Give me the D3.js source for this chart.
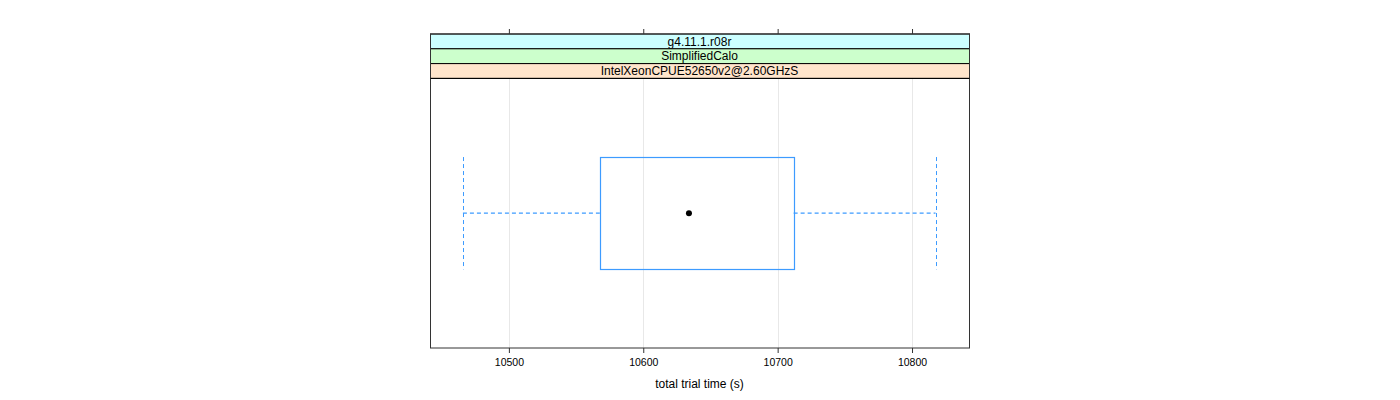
<!DOCTYPE html>
<html><head><meta charset="utf-8">
<script src="https://cdn.jsdelivr.net/npm/d3@7"></script>
<style>body{margin:0;background:#fff}svg{display:block}text{font-family:"Liberation Sans",Arial,sans-serif}</style>
</head><body><svg id="c" width="1400" height="400"></svg>
<script>
const strips = ["g4.11.1.r08r","SimplifiedCalo","IntelXeonCPUE52650v2@2.60GHzS"];
const stripColors = ["#ccffff","#ccffcc","#ffe5cc"];
const tickValues = [10500,10600,10700,10800];
const stats = {lowWhisker:10465.8, q1:10567.7, median:10634.0, q3:10711.9, highWhisker:10817.5};
const xDomain = [10441.3, 10842.4];
const xLabel = "total trial time (s)";

const svg = d3.select("#c");
const L = 430, R = 969, stripTop = 34, stripH = 14.8, panelBottom = 348;
const panelTop = stripTop + strips.length*stripH;
const x = d3.scaleLinear().domain(xDomain).range([L, R]);
const y = d3.scaleLinear().domain([0.4, 1.6]).range([panelBottom, panelTop]);

// grid
svg.selectAll(".grid").data(tickValues).join("line")
  .attr("x1", d=>Math.round(x(d))+0.5).attr("x2", d=>Math.round(x(d))+0.5)
  .attr("y1", panelTop).attr("y2", panelBottom)
  .attr("stroke", "#e8e8e8").attr("stroke-width", 1);

// strips
strips.forEach((s,i)=>{
  const yy = stripTop + i*stripH;
  svg.append("rect").attr("x", L+0.5).attr("y", yy).attr("width", R-L).attr("height", stripH)
    .attr("fill", stripColors[i]).attr("stroke", "#000").attr("stroke-width", 1);
  svg.append("text").attr("x", (L+R)/2).attr("y", yy+stripH/2+4.2).attr("text-anchor","middle")
    .attr("font-size", 12).attr("fill","#000").text(s);
});

// box
const bc = "#3d9bff";
const hw = 0.25;
svg.append("rect").attr("x", Math.round(x(stats.q1))+0.5).attr("y", Math.round(y(1+hw))+0.5)
  .attr("width", Math.round(x(stats.q3))-Math.round(x(stats.q1)))
  .attr("height", Math.round(y(1-hw))-Math.round(y(1+hw))).attr("fill","none").attr("stroke", bc).attr("stroke-width",1.2);
const dash = "4,3";
[[stats.lowWhisker, stats.q1],[stats.q3, stats.highWhisker]].forEach(([a,b])=>{
  svg.append("line").attr("x1", x(a)).attr("x2", x(b)).attr("y1", y(1)).attr("y2", y(1))
    .attr("stroke", bc).attr("stroke-width",1.2).attr("stroke-dasharray", dash);
});
[stats.lowWhisker, stats.highWhisker].forEach(v=>{
  svg.append("line").attr("x1", Math.round(x(v))+0.5).attr("x2", Math.round(x(v))+0.5).attr("y1", y(1+hw)).attr("y2", y(1-hw))
    .attr("stroke", bc).attr("stroke-dasharray", dash);
});
svg.append("circle").attr("cx", x(stats.median)).attr("cy", y(1)).attr("r", 3).attr("fill","#000");

// panel frame
svg.append("rect").attr("x", L+0.5).attr("y", stripTop).attr("width", R-L).attr("height", panelBottom-stripTop)
  .attr("fill","none").attr("stroke","#333").attr("stroke-width",1);
svg.append("line").attr("x1", L+0.5).attr("x2", R+0.5).attr("y1", panelTop).attr("y2", panelTop).attr("stroke","#000");

// axes
const axB = d3.axisBottom(x).tickValues(tickValues).tickSize(5).tickPadding(6).tickFormat(d3.format("d"));
const gB = svg.append("g").attr("transform", `translate(0,${panelBottom})`).call(axB);
gB.select(".domain").remove();
gB.selectAll("line").attr("stroke","#333");
gB.selectAll("text").attr("font-size", 10.5).attr("font-family","Liberation Sans, Arial, sans-serif").attr("fill","#000");
const axT = d3.axisTop(x).tickValues(tickValues).tickSize(5).tickFormat("");
const gT = svg.append("g").attr("transform", `translate(0,${stripTop})`).call(axT);
gT.select(".domain").remove();
gT.selectAll("line").attr("stroke","#333");

svg.append("text").attr("x", (L+R)/2).attr("y", 388).attr("text-anchor","middle").attr("font-size", 12).attr("fill","#000").text(xLabel);
</script></body></html>
